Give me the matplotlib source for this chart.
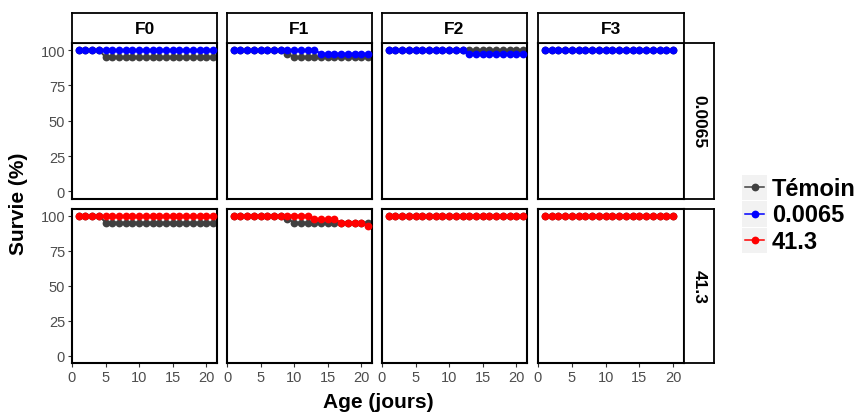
import matplotlib
matplotlib.use("Agg")
import matplotlib.pyplot as plt
from matplotlib.patches import Rectangle
from matplotlib.lines import Line2D

plt.rcParams['font.family'] = ['Liberation Sans', 'DejaVu Sans']

# ---------------- data ----------------
generations = ["F0", "F1", "F2", "F3"]
doses = ["0.0065", "41.3"]
series_names = ["Témoin", "0.0065", "41.3"]

age_F0 = [1, 2, 3, 4, 5, 6, 7, 8, 9, 10, 11, 12, 13, 14, 15, 16, 17, 18, 19, 20, 21]
age_F1 = [1, 2, 3, 4, 5, 6, 7, 8, 9, 10, 11, 12, 13, 14, 15, 16, 17, 18, 19, 20, 21]
age_F2 = [1, 2, 3, 4, 5, 6, 7, 8, 9, 10, 11, 12, 13, 14, 15, 16, 17, 18, 19, 20, 21]
age_F3 = [1, 2, 3, 4, 5, 6, 7, 8, 9, 10, 11, 12, 13, 14, 15, 16, 17, 18, 19, 20]

temoin_F0 = [100, 100, 100, 100, 95, 95, 95, 95, 95, 95, 95, 95, 95, 95, 95, 95, 95, 95, 95, 95, 95]
temoin_F1 = [100, 100, 100, 100, 100, 100, 100, 100, 97.5, 95, 95, 95, 95, 95, 95, 95, 95, 95, 95, 95, 95]
temoin_F2 = [100, 100, 100, 100, 100, 100, 100, 100, 100, 100, 100, 100, 100, 100, 100, 100, 100, 100, 100, 100, 100]
temoin_F3 = [100, 100, 100, 100, 100, 100, 100, 100, 100, 100, 100, 100, 100, 100, 100, 100, 100, 100, 100, 100]

d0065_F0 = [100, 100, 100, 100, 100, 100, 100, 100, 100, 100, 100, 100, 100, 100, 100, 100, 100, 100, 100, 100, 100]
d0065_F1 = [100, 100, 100, 100, 100, 100, 100, 100, 100, 100, 100, 100, 100, 97.5, 97.5, 97.5, 97.5, 97.5, 97.5, 97.5, 97.5]
d0065_F2 = [100, 100, 100, 100, 100, 100, 100, 100, 100, 100, 100, 100, 97.5, 97.5, 97.5, 97.5, 97.5, 97.5, 97.5, 97.5, 97.5]
d0065_F3 = [100, 100, 100, 100, 100, 100, 100, 100, 100, 100, 100, 100, 100, 100, 100, 100, 100, 100, 100, 100]

d413_F0 = [100, 100, 100, 100, 100, 100, 100, 100, 100, 100, 100, 100, 100, 100, 100, 100, 100, 100, 100, 100, 100]
d413_F1 = [100, 100, 100, 100, 100, 100, 100, 100, 100, 100, 100, 100, 97.5, 97.5, 97.5, 97.5, 95, 95, 95, 95, 92.5]
d413_F2 = [100, 100, 100, 100, 100, 100, 100, 100, 100, 100, 100, 100, 100, 100, 100, 100, 100, 100, 100, 100, 100]
d413_F3 = [100, 100, 100, 100, 100, 100, 100, 100, 100, 100, 100, 100, 100, 100, 100, 100, 100, 100, 100, 100]

ages = [age_F0, age_F1, age_F2, age_F3]
temoin = [temoin_F0, temoin_F1, temoin_F2, temoin_F3]
treat = {"0.0065": [d0065_F0, d0065_F1, d0065_F2, d0065_F3],
         "41.3": [d413_F0, d413_F1, d413_F2, d413_F3]}

x_ticks = [0, 5, 10, 15, 20]
y_ticks = [0, 25, 50, 75, 100]

colors = {"Témoin": "#404040", "0.0065": "#0000FF", "41.3": "#FF0000"}

# ---------------- layout ----------------
W, H = 861, 414
fig = plt.figure(figsize=(W / 100, H / 100), dpi=100)


def rect(x0, y0, x1, y1):
    return [x0 / W, 1 - y1 / H, (x1 - x0) / W, (y1 - y0) / H]


col_x = [(72, 217), (227, 372), (382, 527), (538, 684)]
row_y = [(44, 199.5), (209.5, 364)]
tick_col = "#4D4D4D"
ms = 5.6
lw = 1.4

for r, dose in enumerate(doses):
    for c, gen in enumerate(generations):
        ax = fig.add_axes(rect(col_x[c][0], row_y[r][0], col_x[c][1], row_y[r][1]))
        ax.plot(ages[c], temoin[c], color=colors["Témoin"], lw=lw, marker="o",
                ms=ms, mec="none", zorder=2)
        ax.plot(ages[c], treat[dose][c], color=colors[dose], lw=lw, marker="o",
                ms=ms, mec="none", zorder=3)
        ax.set_xlim(0, 21.6)
        ax.set_ylim(-5, 105)
        ax.set_xticks(x_ticks)
        ax.set_yticks(y_ticks)
        for s in ax.spines.values():
            s.set_linewidth(1.5)
            s.set_color("black")
        ax.tick_params(length=3, width=0.8, color="#333333", labelcolor=tick_col,
                       labelsize=10.5, pad=2)
        if c != 0:
            ax.tick_params(axis="y", left=False, labelleft=False)
        if r == 0:
            ax.tick_params(axis="x", bottom=False, labelbottom=False)
        # top strip
        if r == 0:
            sax = fig.add_axes(rect(col_x[c][0], 14, col_x[c][1], 44))
            sax.set_xticks([]); sax.set_yticks([])
            for s in sax.spines.values():
                s.set_linewidth(1.3)
            sax.text(0.5, 0.5, gen, ha="center", va="center", fontsize=12.5,
                     fontweight="bold", transform=sax.transAxes)
    # right strip
    rax = fig.add_axes(rect(684, row_y[r][0], 714, row_y[r][1]))
    rax.set_xticks([]); rax.set_yticks([])
    for s in rax.spines.values():
        s.set_linewidth(1.3)
    rax.text(0.5, 0.5, dose, ha="center", va="center", fontsize=12.5,
             fontweight="bold", rotation=-90, transform=rax.transAxes)

# axis titles
fig.text(378 / W, 1 - 403 / H, "Age (jours)", ha="center", va="center",
         fontsize=15, fontweight="bold")
fig.text(19 / W, 1 - 204 / H, "Survie (%)", ha="center", va="center",
         fontsize=15, fontweight="bold", rotation=90)

# legend (manual, ggplot-like keys)
lax = fig.add_axes([0, 0, 1, 1])
lax.set_xlim(0, W)
lax.set_ylim(H, 0)
lax.axis("off")
key_top = 175
key_h = 26.5
for i, name in enumerate(series_names):
    y0 = key_top + i * key_h
    lax.add_patch(Rectangle((742, y0 + 0.5), 25, key_h - 1, facecolor="#F2F2F2",
                            edgecolor="none"))
    yc = y0 + key_h / 2
    lax.add_line(Line2D([745, 764], [yc, yc], color=colors[name], lw=1.1))
    lax.plot([754.5], [yc], marker="o", ms=ms, color=colors[name], mec="none")
    lax.text(772, yc + 1, name, ha="left", va="center", fontsize=17,
             fontweight="bold")

fig.savefig("out.png", dpi=100)
